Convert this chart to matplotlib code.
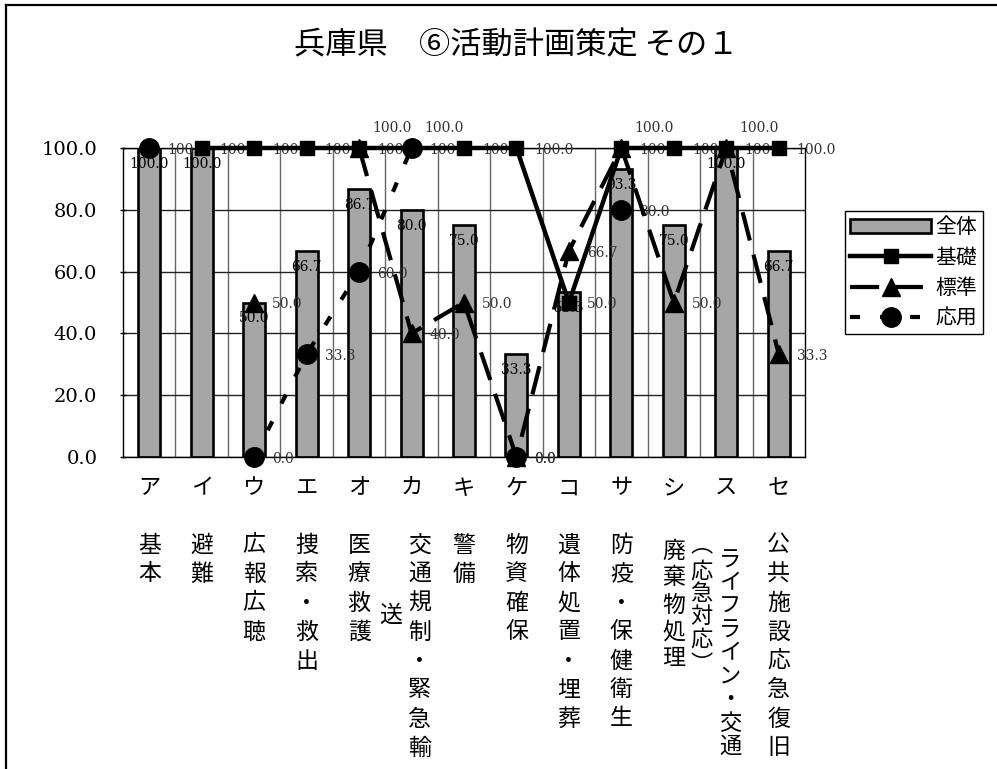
import numpy as np
import matplotlib
matplotlib.use("Agg")
import matplotlib.pyplot as plt
from matplotlib.lines import Line2D

# ---- data -------------------------------------------------------------
kana = ["ア", "イ", "ウ", "エ", "オ", "カ", "キ", "ケ", "コ", "サ", "シ", "ス", "セ"]
names = ["基本", "避難", "広報広聴", "捜索・救出", "医療救護", "交通規制・緊急輸送",
         "警備", "物資確保", "遺体処置・埋葬", "防疫・保健衛生", "廃棄物処理",
         "ライフライン・交通︵応急対応︶", "公共施設応急復旧"]
nan = np.nan
overall = [100.0, 100.0, 50.0, 66.7, 86.7, 80.0, 75.0, 33.3, 53.3, 93.3, 75.0, 100.0, 66.7]
basic = [nan, 100.0, 100.0, 100.0, 100.0, 100.0, 100.0, 100.0, 50.0, 100.0, 100.0, 100.0, 100.0]
standard = [nan, nan, 50.0, nan, 100.0, 40.0, 50.0, 0.0, 66.7, 100.0, 50.0, 100.0, 33.3]
applied = [100.0, nan, 0.0, 33.3, 60.0, 100.0, nan, 0.0, nan, 80.0, nan, nan, nan]
series_names = ["全体", "基礎", "標準", "応用"]
title = "兵庫県　⑥活動計画策定 その１"
yticks = [0, 20, 40, 60, 80, 100]

CJK = ["Noto Sans CJK JP", "DejaVu Sans"]
SERIF = "DejaVu Serif"

# ---- figure / axes ----------------------------------------------------
W, H = 997, 769
fig = plt.figure(figsize=(W / 100, H / 100), dpi=100)
ax = fig.add_axes([123 / W, 1 - 457 / H, (805 - 123) / W, (457 - 148) / H])

x = np.arange(len(kana))
ax.bar(x, overall, width=0.42, color="#a6a6a6", edgecolor="black",
       linewidth=1.9, label=series_names[0], zorder=2)
ax.plot(x, basic, color="black", lw=3.2, marker="s", ms=10.5,
        label=series_names[1], zorder=5, clip_on=False)
ax.plot(x, standard, color="black", lw=3.0, dashes=(7, 3.5), marker="^",
        ms=12.5, label=series_names[2], zorder=5, clip_on=False)
ax.plot(x, applied, color="black", lw=3.0, dashes=(2.4, 4.8), marker="o",
        ms=14, label=series_names[3], zorder=5, clip_on=False)

ax.set_xlim(-0.5, len(kana) - 0.5)
ax.set_ylim(0, 100)

# grid: vertical lines between categories, horizontal at each y tick
ax.set_xticks(np.arange(0.5, len(kana) - 0.5, 1))
ax.set_xticklabels([])
ax.tick_params(axis="x", length=0)
ax.grid(axis="x", color="#666666", lw=1.0, zorder=0)
ax.set_yticks(yticks)
ax.set_yticklabels([f"{v:.1f}" for v in yticks], fontfamily=SERIF, fontsize=14)
ax.tick_params(axis="y", length=5, width=1, direction="inout", pad=16)
ax.grid(axis="y", color="#222222", lw=1.0, zorder=0)
ax.set_axisbelow(True)
for sp in ax.spines.values():
    sp.set_color("black")
    sp.set_linewidth(1.0)

# ---- value labels -----------------------------------------------------
for i, v in enumerate(overall):
    ax.annotate(f"{v:.1f}", (i, v), xytext=(0, -16), textcoords="offset pixels",
                ha="center", va="center", fontsize=10, family=SERIF,
                color="black", zorder=3, annotation_clip=False)

lifted = {"標準": {4, 9, 11}, "応用": {5}}
for name, vals in zip(series_names[1:], [basic, standard, applied]):
    for i, v in enumerate(vals):
        if np.isnan(v):
            continue
        off = (13, 20) if i in lifted.get(name, set()) else (18, -2)
        ax.annotate(f"{v:.1f}", (i, v), xytext=off, textcoords="offset pixels",
                    ha="left", va="center", fontsize=10, family=SERIF,
                    color="#333333", zorder=4, annotation_clip=False)

# ---- category labels (vertical writing) --------------------------------
def put(ch, i, dx, dy, size):
    ax.annotate(ch, (i, 0), xycoords=("data", "axes fraction"),
                xytext=(dx, dy), textcoords="offset pixels",
                ha="center", va="center", fontsize=size, family=CJK,
                annotation_clip=False)

pitch = 29
for i, (k, nm) in enumerate(zip(kana, names)):
    put(k, i, 0, -31, 16)
    if i == 5:      # long label wraps: last character goes to a second column
        for r, ch in enumerate(nm[:8]):
            put(ch, i, 8, -88 - r * pitch, 16.5)
        put(nm[8], i, -21, -158, 16.5)
    elif i == 11:   # long label: main line plus a parenthesised column
        main, sub = nm[:9], nm[9:]
        for r, ch in enumerate(main):
            put(ch, i, 4, -103 - r * 23.3, 16)
        sub_y = [-88, -114, -137, -159, -182, -208]
        for ch, yy in zip(sub, sub_y):
            put(ch, i, -25, yy, 16)
    elif i == 10:
        for r, ch in enumerate(nm):
            put(ch, i, 0, -94 - r * 27, 16.5)
    else:
        for r, ch in enumerate(nm):
            put(ch, i, 0, -88 - r * pitch, 16.5)

# ---- title, legend, frame ---------------------------------------------
fig.text(516 / W, 1 - 45 / H, title, ha="center", va="center",
         fontsize=22.5, family=CJK)

handles, labels = ax.get_legend_handles_labels()
order = [labels.index(n) for n in series_names]
leg = ax.legend([handles[j] for j in order], [labels[j] for j in order],
                loc="upper left", bbox_to_anchor=(845 / W, 1 - 211 / H),
                bbox_transform=fig.transFigure, prop={"family": CJK, "size": 15},
                frameon=True, fancybox=False, edgecolor="black", framealpha=1,
                borderpad=0.25, labelspacing=0.4, handlelength=3.9,
                handleheight=0.7, handletextpad=0.2, borderaxespad=0)
leg.get_frame().set_linewidth(1.0)

fig.add_artist(Line2D([6 / W, 6 / W], [0, 1 - 5 / H], transform=fig.transFigure,
                      color="black", lw=1.6))
fig.add_artist(Line2D([6 / W, 1], [1 - 5 / H, 1 - 5 / H], transform=fig.transFigure,
                      color="black", lw=1.6))

fig.savefig("out.png", dpi=100)
